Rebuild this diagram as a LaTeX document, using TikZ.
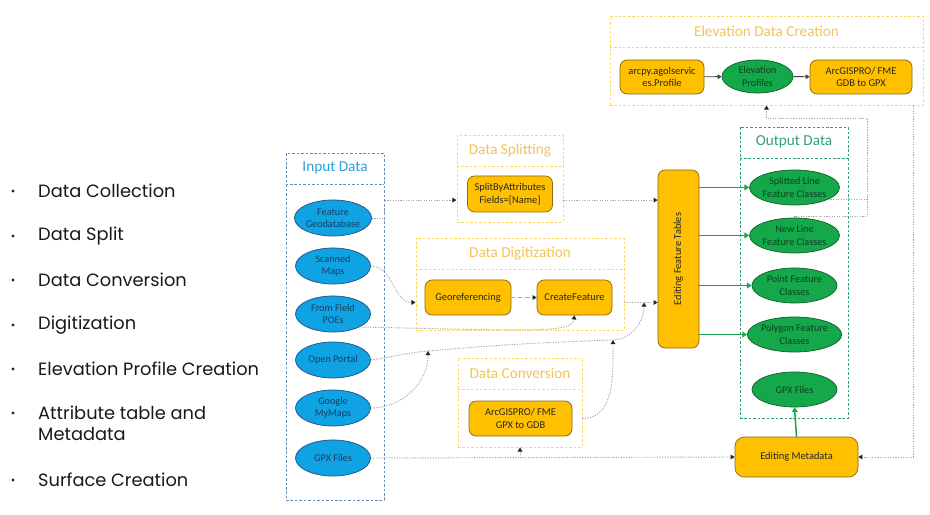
\documentclass[tikz,border=0pt]{standalone}
\usepackage{fontspec}
\setmainfont{Carlito}
\newfontfamily\listfont{Poppins}
\usetikzlibrary{arrows.meta,shapes.geometric,positioning}

\definecolor{procfill}{HTML}{FFC000}
\definecolor{procdraw}{HTML}{8A6A10}
\definecolor{srcfill}{HTML}{0FA3E3}
\definecolor{srcdraw}{HTML}{1F4E79}
\definecolor{resfill}{HTML}{14A84B}
\definecolor{resdraw}{HTML}{0E5E2B}
\definecolor{goldline}{HTML}{FFD966}
\definecolor{goldtext}{HTML}{F2C45A}
\definecolor{inline}{HTML}{6A8EBF}
\definecolor{intext}{HTML}{2AA3D6}
\definecolor{outgreen}{HTML}{34A07A}
\definecolor{linkgray}{HTML}{A6A6A6}

\begin{document}
\begin{tikzpicture}[
  x=0.03cm, y=-0.03cm,
  every node/.style={align=center},
  proc/.style={draw=procdraw, fill=procfill, semithick, rounded corners=6pt, inner sep=1pt,
    text=black!85, font=\fontsize{8.9}{10.5}\selectfont},
  src/.style={ellipse, draw=srcdraw, fill=srcfill, semithick, inner sep=0pt,
    minimum width=2.25cm, minimum height=1.08cm, text=srcdraw!80!black, font=\fontsize{8.7}{10.5}\selectfont},
  res/.style={ellipse, draw=resdraw, fill=resfill, semithick, inner sep=0pt,
    minimum width=2.55cm, minimum height=1.05cm, text=resdraw!70!black, font=\fontsize{8.7}{10.5}\selectfont},
  group/.style={line width=0.8pt, dash pattern=on 2.2pt off 1.6pt, inner sep=0pt},
  grouptitle/.style={inner sep=0pt, minimum height=0.93cm, font=\fontsize{13}{15}\selectfont},
  link/.style={draw=linkgray, line width=0.8pt, dash pattern=on 1pt off 1.2pt,
    -{Triangle[length=3.5pt, width=4pt, color=black!85]}},
  plainlink/.style={draw=linkgray, line width=0.8pt, dash pattern=on 1pt off 1.2pt},
  feed/.style={draw=resfill, line width=1.3pt, -{Triangle[length=4pt, width=5pt]}},
  chain/.style={draw=black!75, line width=0.8pt, -{Triangle[length=3.5pt, width=4pt]}},
  item/.style={anchor=west, align=left, inner sep=0pt, text=black!90,
    font=\listfont\fontsize{15.2}{18}\selectfont}
]
\useasboundingbox[fill=white] (0,0) rectangle (930,515);

% list on the left
\node[item] (c1) at (38,191) {Data Collection};
\node[item] (c2) at (38,236) {Data Split};
\node[item] (c3) at (38,280) {Data Conversion};
\node[item] (c4) at (38,325) {Digitization};
\node[item] (c5) at (38,369) {Elevation Profile Creation};
\node[item] (c6) at (38,423.5) {Attribute table and\\Metadata};
\node[item] (c7) at (38,480) {Surface Creation};
\foreach \y in {191,236,280,325,369,413,480}
  \fill[black!85] (13,\y) circle (1.4pt);

% groups
\node[group, draw=inline, minimum width=2.94cm, minimum height=10.41cm] (inbox) at (335,326.5) {};
\node[grouptitle, text=intext, below=0pt of inbox.north] (intitle) {Input Data};
\draw[group, draw=inline] (intitle.south -| inbox.west) -- (intitle.south -| inbox.east);

\node[group, draw=goldline, minimum width=3.18cm, minimum height=2.61cm] (splitbox) at (510,178.5) {};
\node[grouptitle, text=goldtext, below=0pt of splitbox.north] (splittitle) {Data Splitting};
\draw[group, draw=goldline] (splittitle.south -| splitbox.west) -- (splittitle.south -| splitbox.east);

\node[group, draw=goldline, minimum width=6.24cm, minimum height=2.76cm] (digitbox) at (520,284) {};
\node[grouptitle, text=goldtext, below=0pt of digitbox.north] (digittitle) {Data Digitization};
\draw[group, draw=goldline] (digittitle.south -| digitbox.west) -- (digittitle.south -| digitbox.east);

\node[group, draw=goldline, minimum width=3.72cm, minimum height=2.67cm] (convbox) at (520,402.5) {};
\node[grouptitle, text=goldtext, below=0pt of convbox.north] (convtitle) {Data Conversion};
\draw[group, draw=goldline] (convtitle.south -| convbox.west) -- (convtitle.south -| convbox.east);

\node[group, draw=outgreen, minimum width=3.24cm, minimum height=8.73cm] (outbox) at (794,272.5) {};
\node[grouptitle, text=outgreen, below=0pt of outbox.north] (outtitle) {Output Data};
\draw[group, draw=outgreen] (outtitle.south -| outbox.west) -- (outtitle.south -| outbox.east);

\node[group, draw=goldline, minimum width=9.39cm, minimum height=2.67cm] (elevbox) at (766.5,60.5) {};
\node[grouptitle, text=goldtext, below=0pt of elevbox.north] (elevtitle) {Elevation Data Creation};
\draw[group, draw=goldline] (elevtitle.south -| elevbox.west) -- (elevtitle.south -| elevbox.east);

% inputs
\node[src] (fgdb) at (333,218) {Feature\\Geodatabase};
\node[src] (scan) at (333,266) {Scanned\\Maps};
\node[src] (poe) at (333,314) {From Field\\POEs};
\node[src] (portal) at (333,360) {Open Portal};
\node[src] (mymaps) at (333,408) {Google\\MyMaps};
\node[src] (gpxin) at (333,458) {GPX Files};

% processing
\node[proc, minimum width=2.55cm, minimum height=1.08cm] (split) at (510,194) {SplitByAttributes\\Fields=[Name]};
\node[proc, minimum width=2.58cm, minimum height=1.05cm] (geo) at (468,297.5) {Georeferencing};
\node[proc, minimum width=2.25cm, minimum height=1.05cm] (create) at (574.5,297.5) {CreateFeature};
\node[proc, minimum width=3.09cm, minimum height=1.05cm] (gpx2gdb) at (520.5,418.5) {ArcGISPRO/ FME\\GPX to GDB};
\node[proc, minimum width=1.23cm, minimum height=5.34cm] (tables) at (678.5,259) {};
\node[rotate=90, text=black!85, font=\fontsize{8.9}{10.5}\selectfont] at (tables) {Editing Feature Tables};
\node[proc, minimum width=3.69cm, minimum height=1.2cm, rounded corners=8pt] (meta) at (796.5,457) {Editing Metadata};

% elevation
\node[proc, minimum width=2.52cm, minimum height=1.02cm] (arcpy) at (662,77) {arcpy.agolservic\\es.Profile};
\node[res, minimum width=2.13cm, minimum height=0.99cm] (profiles) at (757.5,76.5) {Elevation\\Profiles};
\node[proc, minimum width=3.06cm, minimum height=1.02cm] (gdb2gpx) at (861,77) {ArcGISPRO/ FME\\GDB to GPX};

% outputs
\node[res] (splitted) at (794.5,187.5) {Splitted Line\\Feature Classes};
\node[res] (newline) at (794.5,235.5) {New Line\\Feature Classes};
\node[res] (points) at (794.5,285.5) {Point Feature\\Classes};
\node[res] (polys) at (794.5,334.5) {Polygon Feature\\Classes};
\node[res] (gpxout) at (794.5,389.5) {GPX Files};

\coordinate (m1) at (428,351);
\coordinate (m2) at (613,340);
\coordinate (m3) at (644,302.5);
\coordinate (j1) at (867,118);
\coordinate (j2) at (867,216);

% connectors
\draw[link] (fgdb.east) -| (inbox.east |- splitbox.202) -- (splitbox.202);
\draw[link] (splitbox.-22) -- (tables.west |- splitbox.-22);
\draw[link] (scan.east) to[out=0,in=180] (digitbox.190);
\draw[draw=linkgray, line width=0.8pt, dash pattern=on 3.5pt off 2.5pt,
  -{Triangle[length=3.5pt, width=4pt, color=black!85]}] (geo) -- (create);
\draw[link] (poe.south east) .. controls (540,331) and (572,333) .. (create.south);
\draw[link] (digitbox.-10) -- (tables.west |- m3);
\draw[link] (portal.east) to[out=8,in=185] (m1) to[out=5,in=182] (m2) to[out=2,in=-90] (m3);
\draw[link] (mymaps.east) to[out=0,in=-90] (m1);
\draw[link] (gpx2gdb.east -| convbox.east) to[out=0,in=-90] (m2);
\draw[link] (gpxin.east) -- (meta.west);
\draw[link] (convbox.south |- gpxin.east) -- (convbox.south);

\foreach \o in {splitted,newline,points,polys}
  \draw[feed] (tables.east |- \o) -- (\o.west);
\draw[feed] (meta.north) -- (gpxout.south);

\draw[chain] (arcpy) -- (profiles);
\draw[chain] (profiles) -- (gdb2gpx);

\draw[link] (splitted.-20) -| (j1) -| (elevbox.south);
\draw[plainlink] (newline.north) |- (j2) -- (j1);
\draw[link] (elevbox.-17.8) |- (meta.east);
\end{tikzpicture}
\end{document}
